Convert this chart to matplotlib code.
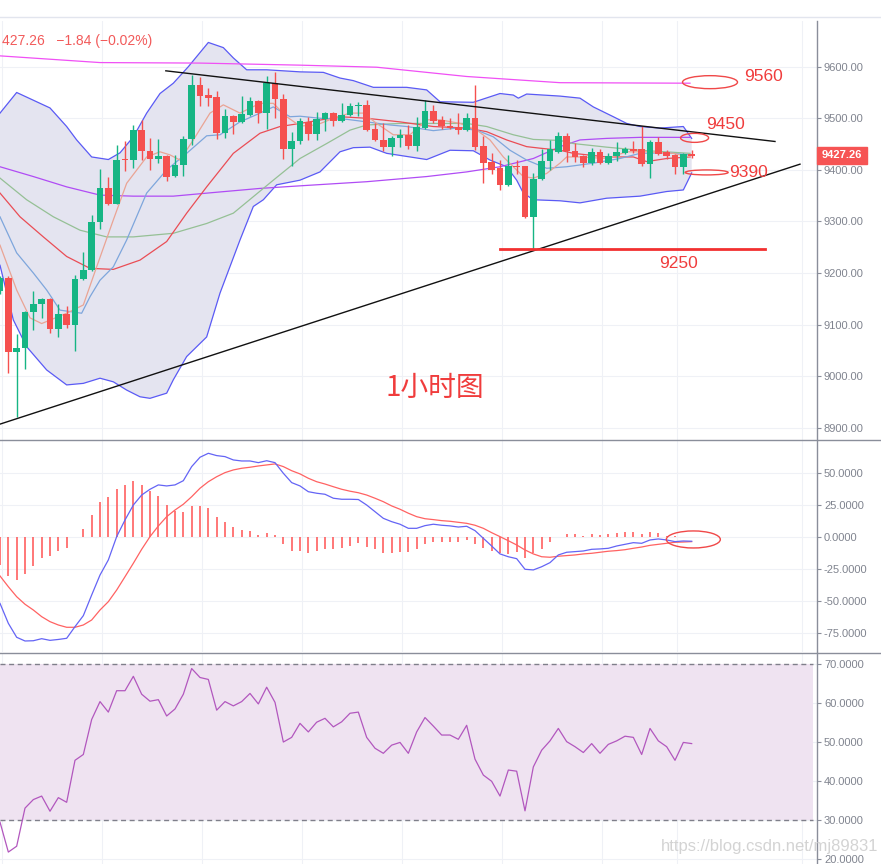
import matplotlib
matplotlib.use('Agg')
import matplotlib.pyplot as plt
from matplotlib.patches import Ellipse, Rectangle
from matplotlib.lines import Line2D
import numpy as np

# ---------------- data ----------------
opens = [9165, 9191, 9046, 9055, 9125, 9140, 9150, 9092, 9120, 9100,
         9189, 9205, 9299, 9365, 9334, 9422, 9419, 9478, 9437, 9421,
         9427, 9388, 9409, 9460, 9565, 9546, 9541, 9472, 9505, 9492,
         9507, 9534, 9511, 9569, 9537, 9440, 9455, 9493, 9470, 9498,
         9510, 9494, 9506, 9523, 9526, 9480, 9458, 9445, 9461, 9468,
         9447, 9482, 9514, 9497, 9485, 9484, 9478, 9500, 9447, 9416,
         9403, 9370, 9407, 9407, 9308, 9383, 9418, 9434, 9466, 9436,
         9426, 9413, 9434, 9413, 9426, 9432, 9440, 9440, 9412, 9454,
         9435, 9428, 9405, 9430]
highs = [9195, 9195, 9081, 9127, 9166, 9152, 9152, 9139, 9136, 9197,
         9240, 9313, 9402, 9386, 9449, 9456, 9487, 9497, 9461, 9460,
         9428, 9428, 9466, 9584, 9580, 9558, 9553, 9518, 9506, 9543,
         9542, 9536, 9582, 9590, 9547, 9474, 9500, 9503, 9513, 9512,
         9512, 9529, 9530, 9532, 9536, 9490, 9490, 9466, 9479, 9487,
         9502, 9536, 9526, 9505, 9500, 9510, 9510, 9565, 9465, 9432,
         9420, 9429, 9420, 9408, 9394, 9440, 9458, 9474, 9472, 9452,
         9429, 9442, 9440, 9432, 9454, 9445, 9455, 9485, 9458, 9463,
         9438, 9430, 9432, 9439]
lows = [9160, 9007, 8920, 9013, 9089, 9113, 9083, 9075, 9094, 9049,
        9187, 9203, 9285, 9332, 9333, 9397, 9403, 9420, 9399, 9413,
        9378, 9386, 9389, 9449, 9523, 9523, 9460, 9461, 9470, 9490,
        9505, 9490, 9479, 9500, 9421, 9408, 9450, 9458, 9457, 9476,
        9485, 9493, 9504, 9505, 9476, 9455, 9436, 9426, 9444, 9440,
        9436, 9480, 9490, 9479, 9480, 9470, 9476, 9438, 9374, 9391,
        9360, 9368, 9391, 9306, 9245, 9380, 9400, 9432, 9416, 9416,
        9405, 9410, 9411, 9411, 9418, 9430, 9432, 9407, 9384, 9428,
        9422, 9391, 9391, 9423]
closes = [9191, 9046, 9055, 9125, 9140, 9150, 9092, 9120, 9100, 9189,
          9205, 9299, 9365, 9334, 9420, 9419, 9478, 9436, 9421, 9427,
          9387, 9409, 9460, 9565, 9544, 9540, 9472, 9505, 9492, 9508,
          9534, 9511, 9569, 9537, 9440, 9455, 9494, 9470, 9498, 9510,
          9494, 9507, 9524, 9526, 9478, 9457, 9445, 9461, 9468, 9447,
          9483, 9514, 9495, 9485, 9482, 9478, 9500, 9444, 9414, 9400,
          9370, 9407, 9405, 9308, 9383, 9418, 9440, 9466, 9436, 9425,
          9413, 9434, 9413, 9427, 9434, 9440, 9437, 9412, 9454, 9431,
          9426, 9405, 9430, 9427.26]

# indicator lines (bar index, price)
bb_upper_x = [0, 2, 4, 6, 8, 9.2, 11, 13, 14.4, 16, 17.6, 19.2, 20.8, 22.6, 25, 26.8, 28, 29.6,
              32, 36, 38.8, 40.8, 42.4, 44.8, 48.8, 51.2, 52.8, 56.8, 60, 61.6, 62.2, 63.2,
              67.2, 69.6, 71.2, 73.6, 75.2, 76.8, 79.2, 82, 83]
bb_upper_y = [9510, 9550, 9535, 9520, 9484, 9458, 9425, 9420, 9433, 9464, 9510, 9548, 9568, 9600,
              9647, 9637, 9617, 9594, 9594, 9590, 9589, 9578, 9573, 9560, 9560, 9555, 9532, 9531,
              9548, 9545, 9539, 9547, 9543, 9539, 9522, 9503, 9490, 9484, 9481, 9484, 9461]
bb_lower_x = [0, 1.6, 3.2, 5.6, 8, 10, 12, 13.6, 15.2, 16.8, 18, 20, 20.8, 22.4, 24.8, 26.4,
              28.8, 30.4, 31.6, 33.2, 36, 38.4, 40.8, 42.4, 44.4, 46.4, 51.2, 54, 56.8, 58.8,
              60.8, 62, 62.8, 64, 67.2, 69.6, 72.8, 76.8, 80, 82, 82.4, 83]
bb_lower_y = [9215, 9109, 9057, 9012, 8983, 8986, 8996, 8989, 8973, 8960, 8957, 8967, 8993, 9038,
              9076, 9161, 9264, 9329, 9342, 9371, 9380, 9396, 9435, 9443, 9444, 9432, 9420, 9438,
              9437, 9419, 9406, 9380, 9355, 9342, 9340, 9336, 9345, 9349, 9358, 9361, 9374, 9394]
ma5_x = [0, 2, 3.6, 5, 8, 10, 11.6, 13.6, 15.2, 17.6, 19.2, 20.4, 21.6, 23.2, 25.2, 26.8, 28.8,
         31.2, 32.8, 34.4, 36, 38, 40, 42, 43.6, 45.2, 47.2, 49.2, 51.2, 52.8, 55.2, 57.2, 58.8,
         60.4, 61.6, 62.8, 64, 65.6, 67.2, 68, 69.6, 72.8, 75.2, 77.6, 80.8, 82.8]
ma5_y = [9254, 9167, 9113, 9102, 9122, 9138, 9212, 9303, 9374, 9425, 9435, 9429, 9419, 9458,
         9510, 9526, 9510, 9529, 9529, 9503, 9485, 9487, 9500, 9510, 9510, 9490, 9468, 9468,
         9497, 9497, 9490, 9477, 9458, 9425, 9406, 9387, 9384, 9393, 9413, 9425, 9425, 9422,
         9435, 9435, 9432, 9425]
ma10_x = [0, 2, 4, 5.6, 7.2, 9.8, 10.8, 12, 13.6, 15.2, 17.6, 20, 22.4, 24.8, 26.4, 28.8, 31.2,
          32.8, 34.8, 36, 38.4, 41.6, 44, 46.8, 48.8, 52, 54.8, 57.2, 59.2, 61.2, 63.2, 65.6,
          68, 71.2, 74.4, 76.8, 80, 82.8]
ma10_y = [9309, 9239, 9200, 9167, 9128, 9122, 9154, 9186, 9212, 9264, 9355, 9400, 9432, 9466,
          9468, 9493, 9510, 9522, 9503, 9504, 9500, 9498, 9493, 9487, 9484, 9476, 9481, 9477,
          9464, 9438, 9419, 9403, 9406, 9413, 9422, 9432, 9433, 9429]
ma20_x = [0, 2.4, 5.2, 8, 10.8, 13.6, 16.8, 20, 22.4, 24.8, 28, 31.2, 33.6, 36, 40.8, 44, 48,
          52, 56, 58.4, 60.8, 63.2, 64.8, 67.2, 68.8, 72.8, 76, 77.6, 80, 82.8]
ma20_y = [9355, 9309, 9270, 9232, 9209, 9207, 9225, 9261, 9316, 9367, 9432, 9471, 9484, 9490,
          9503, 9500, 9493, 9484, 9481, 9474, 9458, 9445, 9442, 9438, 9432, 9425, 9425, 9416,
          9422, 9425]
ma30_x = [0, 3.2, 6.4, 9.6, 12.8, 16, 20.8, 24.8, 28, 30.4, 32.8, 36, 39.2, 42, 44, 48, 56,
          58.4, 61.6, 64, 67.2, 68.8, 72.8, 76.8, 82.8]
ma30_y = [9384, 9342, 9309, 9283, 9270, 9270, 9277, 9296, 9316, 9348, 9380, 9422, 9451, 9477,
          9487, 9490, 9490, 9484, 9468, 9459, 9457, 9451, 9444, 9438, 9432]
ma60_x = [0, 4, 8, 12, 16, 20.8, 25.6, 31.2, 36, 44, 51.2, 56, 60, 64, 67.2, 69.6, 72.8,
          76.8, 82.8]
ma60_y = [9406, 9387, 9367, 9351, 9349, 9349, 9356, 9364, 9369, 9377, 9387, 9396, 9406, 9422,
          9445, 9458, 9461, 9463, 9463]
ma120_x = [0, 12, 24, 36, 45.2, 56, 67.2, 82.8]
ma120_y = [9621, 9608, 9607, 9603, 9599, 9581, 9569, 9568]

macd = [-51.6, -67.2, -78.1, -81.0, -80.8, -79.2, -80.5, -79.8, -78.9, -69.8,
        -61.2, -45.1, -29.5, -17.7, 0.5, 13.5, 25.2, 33.0, 37.5, 40.9,
        40.1, 40.9, 44.2, 55.2, 62.5, 65.6, 63.8, 63.0, 60.4, 59.6,
        59.6, 58.3, 59.8, 58.3, 50.0, 42.7, 40.1, 35.6, 34.4, 33.6,
        30.5, 29.7, 29.7, 29.5, 25.2, 20.0, 14.8, 12.2, 10.2, 7.0,
        7.0, 9.1, 10.2, 9.4, 8.9, 8.0, 8.6, 5.2, -0.8, -6.8,
        -13.0, -15.2, -16.7, -25.0, -25.5, -23.0, -19.8, -13.8, -11.7, -11.2,
        -10.7, -9.4, -9.1, -8.6, -6.8, -5.5, -4.2, -4.7, -2.1, -1.3,
        -2.1, -3.4, -2.9, -3.1]
signal = [-30.2, -38.6, -46.4, -52.3, -56.8, -62.0, -65.9, -68.5, -70.3, -70.3,
          -68.5, -64.6, -56.8, -50.3, -41.2, -30.8, -20.3, -9.4, 0.5, 8.8,
          16.1, 21.3, 25.8, 31.7, 38.3, 43.4, 47.3, 50.5, 52.6, 53.9,
          54.7, 55.7, 56.5, 57.3, 55.2, 52.0, 49.5, 46.1, 43.4, 41.6,
          39.5, 37.5, 36.0, 34.8, 33.0, 30.5, 27.8, 24.5, 21.9, 18.8,
          16.1, 14.5, 13.8, 13.0, 12.5, 11.7, 10.9, 9.4, 7.0, 3.6,
          0.5, -2.7, -6.0, -9.9, -13.0, -15.2, -15.6, -14.8, -14.3, -13.8,
          -13.0, -12.5, -11.7, -10.9, -10.4, -9.7, -8.6, -7.6, -6.3, -5.5,
          -4.7, -3.9, -3.7, -3.4]
hist = [-21.6, -30.0, -33.4, -28.7, -22.4, -15.9, -14.6, -10.7, -8.1, 0.3,
        6.5, 17.4, 27.8, 31.7, 37.7, 40.9, 44.0, 40.9, 36.4, 32.3,
        25.2, 20.8, 20.0, 24.5, 24.5, 22.9, 16.1, 12.2, 8.3, 5.7,
        5.2, 1.8, 3.1, 1.8, -5.5, -10.5, -10.5, -12.0, -10.5, -8.9,
        -8.9, -8.1, -6.5, -4.7, -7.3, -9.4, -12.0, -12.0, -11.2, -11.2,
        -8.9, -5.0, -3.7, -3.7, -3.7, -3.7, -1.8, -5.0, -8.1, -10.5,
        -12.5, -12.8, -11.2, -15.9, -12.5, -8.9, -3.7, 0.5, 2.6, 2.3,
        1.3, 2.3, 2.0, 2.9, 3.4, 4.2, 4.2, 2.3, 4.2, 3.1,
        1.0, 1.0, 0.5, 0.5]
rsi = [29.4, 21.7, 23.2, 33.0, 35.2, 36.1, 32.2, 35.7, 34.5, 45.3,
       46.8, 55.8, 60.4, 57.7, 63.2, 63.2, 66.9, 62.3, 60.5, 60.9,
       56.7, 58.5, 62.3, 68.9, 66.6, 66.1, 58.2, 60.4, 59.3, 60.4,
       62.5, 59.8, 64.1, 60.2, 50.0, 51.2, 54.8, 52.6, 55.1, 56.1,
       53.9, 55.2, 57.4, 57.7, 51.2, 48.4, 47.1, 49.2, 49.9, 47.1,
       52.6, 56.3, 54.1, 51.8, 51.8, 50.7, 54.3, 45.6, 41.5, 39.9,
       36.1, 42.8, 42.5, 32.3, 43.6, 47.9, 50.3, 53.5, 50.1, 48.8,
       47.3, 49.6, 47.1, 49.4, 50.3, 51.5, 51.2, 46.8, 53.5, 50.3,
       48.8, 45.3, 49.9, 49.6]

price_ticks = [8900, 9000, 9100, 9200, 9300, 9400, 9500, 9600]
macd_ticks = [-75, -50, -25, 0, 25, 50]
rsi_ticks = [20, 30, 40, 50, 60, 70]
last_price = 9427.26
header_text = "427.26   \u22121.84 (\u22120.02%)"

# annotations: (bar index, price)
resist_x, resist_y = [19.9, 93.0], [9592, 9455]
support_x, support_y = [0, 96.0], [8907, 9411]
level_9250_x, level_9250_y = [60, 91.8], [9247, 9247]
levels = ["9560", "9450", "9390", "9250"]

# ---------------- layout / style ----------------
W, H = 881, 864
fig = plt.figure(figsize=(W / 100, H / 100), dpi=100)
plt.rcParams['font.family'] = ['Liberation Sans', 'DejaVu Sans']


def rect(x0, y0, x1, y1):
    return [x0 / W, 1 - y1 / H, (x1 - x0) / W, (y1 - y0) / H]


ax = fig.add_axes(rect(0, 21, 817, 440))
axm = fig.add_axes(rect(0, 441, 817, 652))
axr = fig.add_axes(rect(0, 653, 817, 864))

PX = 817 / 98.04  # pixels per bar
xlim = (0, 98.04)
vgrid = [0.2, 12.2, 24.2, 36.2, 48.2, 60.2, 72.2, 81.2, 96.2]
grid_c = '#eff1f6'
axis_c = '#8a8e9a'
lab_c = '#80848f'
up_c, dn_c = '#16b584', '#f5504f'
ann_c = '#f03c3c'

for a in (ax, axm, axr):
    a.set_xlim(*xlim)
    for s in ('left', 'top', 'bottom'):
        a.spines[s].set_visible(False)
    a.spines['right'].set_color(axis_c)
    a.spines['right'].set_linewidth(1.0)
    a.yaxis.tick_right()
    a.tick_params(axis='x', bottom=False, labelbottom=False)
    a.tick_params(axis='y', direction='out', length=3, width=0.8, color=axis_c,
                  labelcolor=lab_c, labelsize=8, pad=2)
    for g in vgrid:
        a.axvline(g, color=grid_c, lw=0.8, zorder=0)

# ---- price panel ----
ax.set_ylim(8876.2, 9688.6)
ax.set_yticks(price_ticks)
ax.set_yticklabels(['%.2f' % t for t in price_ticks])
for t in price_ticks:
    ax.axhline(t, color=grid_c, lw=0.8, zorder=0)

ax.fill(list(bb_upper_x) + list(bb_lower_x[::-1]), list(bb_upper_y) + list(bb_lower_y[::-1]),
        color='#e4e4f0', zorder=1, lw=0)
ax.plot(bb_upper_x, bb_upper_y, color='#5a5af5', lw=0.9, zorder=2)
ax.plot(bb_lower_x, bb_lower_y, color='#5a5af5', lw=0.9, zorder=2)
ax.plot(ma120_x, ma120_y, color='#f050f5', lw=0.9, zorder=2)
ax.plot(ma60_x, ma60_y, color='#b04cf5', lw=0.9, zorder=2)
ax.plot(ma30_x, ma30_y, color='#95c095', lw=0.9, zorder=2)
ax.plot(ma20_x, ma20_y, color='#ea4d55', lw=0.9, zorder=2)
ax.plot(ma10_x, ma10_y, color='#7ea6dc', lw=0.9, zorder=2)
ax.plot(ma5_x, ma5_y, color='#eaa494', lw=0.9, zorder=2)

idx = np.arange(len(closes))
o = np.array(opens, float); c = np.array(closes, float)
h = np.array(highs, float); l = np.array(lows, float)
cols = np.where(c >= o, up_c, dn_c)
ax.vlines(idx, l, h, colors=cols, lw=1.0, zorder=3)
body_h = np.maximum(np.abs(c - o), 2.0)
ax.bar(idx, body_h, bottom=np.minimum(o, c), width=0.8, color=cols, zorder=4, linewidth=0)

ax.plot(resist_x, resist_y, color='#111111', lw=1.0, zorder=5)
ax.plot(support_x, support_y, color='#111111', lw=1.0, zorder=5)
ax.plot(level_9250_x, level_9250_y, color='#f23030', lw=2.0, zorder=5)

def px_w(p):  # pixel width -> bar units
    return p / PX

def px_h(p):  # pixel height -> price units
    return p * (9688.6 - 8876.2) / 419.0

for (cx, cy, w, hh) in [(85.2, 9570, 55, 13), (83.35, 9462, 28, 9), (84.8, 9395, 43, 5)]:
    ax.add_patch(Ellipse((cx, cy), px_w(w), px_h(hh), fill=False, ec='#f04848', lw=1.0, zorder=6))

ax.text(91.6, 9581, levels[0], color=ann_c, fontsize=12.5, ha='center', va='center', zorder=7)
ax.text(87.1, 9488, levels[1], color=ann_c, fontsize=12.5, ha='center', va='center', zorder=7)
ax.text(89.8, 9394, levels[2], color=ann_c, fontsize=12.5, ha='center', va='center', zorder=7)
ax.text(81.4, 9219, levels[3], color=ann_c, fontsize=12.5, ha='center', va='center', zorder=7)
ax.text(52.2, 8977, "1小时图", color=ann_c, fontsize=20,
        family=['Noto Sans CJK SC', 'DejaVu Sans'], ha='center', va='center', zorder=7)

# ---- MACD panel ----
axm.set_ylim(-89.6, 75.2)
axm.set_yticks(macd_ticks)
axm.set_yticklabels(['%.4f' % t for t in macd_ticks])
for t in macd_ticks:
    axm.axhline(t, color=grid_c, lw=0.8, zorder=0)
axm.vlines(idx, 0, hist, colors='#ff5252', lw=1.1, zorder=2)
axm.plot(idx, signal, color='#ff6262', lw=0.9, zorder=3)
axm.plot(idx, macd, color='#6464f5', lw=0.9, zorder=3)
axm.add_patch(Ellipse((83.2, -1.7), px_w(54), 13.3, fill=False, ec='#f04848', lw=1.0, zorder=6))

# ---- RSI panel ----
axr.set_ylim(18.63, 72.9)
axr.set_yticks(rsi_ticks)
axr.set_yticklabels(['%.4f' % t for t in rsi_ticks])
for t in rsi_ticks:
    axr.axhline(t, color=grid_c, lw=0.8, zorder=0)
axr.axhspan(30, 70, xmin=0, xmax=813 / 817, color='#efe3f1', zorder=0.5, lw=0)
for t in (30, 70):
    axr.axhline(t, xmax=813 / 817, color='#7f7f8a', lw=1.0, ls=(0, (3.6, 2.6)), zorder=1)
axr.plot(idx, rsi, color='#b257be', lw=0.9, zorder=3)

# ---- figure level decorations ----
fig.add_artist(Line2D([0, 1], [1 - 16.5 / H, 1 - 16.5 / H], color='#e2e5ee', lw=1.0))
for yy in (440.5, 652.5):
    fig.add_artist(Line2D([0, 1], [1 - yy / H, 1 - yy / H], color=axis_c, lw=1.0))

fig.text(1.5 / W, 1 - 40.5 / H, header_text, color='#f25a5a', fontsize=10,
         ha='left', va='center')

fig.add_artist(Rectangle((816.5 / W, 1 - 163.5 / H), 50.5 / W, 17 / H,
                         transform=fig.transFigure, color='#f65454', zorder=10))
fig.text(841.5 / W, 1 - 155 / H, '%.2f' % last_price, color='white', fontsize=8,
         fontweight='bold', ha='center', va='center', zorder=11)

fig.text(770 / W, 1 - 846 / H, "https://blog.csdn.net/mj89831", color='#cfcfcf',
         fontsize=12, ha='center', va='center', alpha=0.9, zorder=12)

fig.savefig('out.png', dpi=100)
